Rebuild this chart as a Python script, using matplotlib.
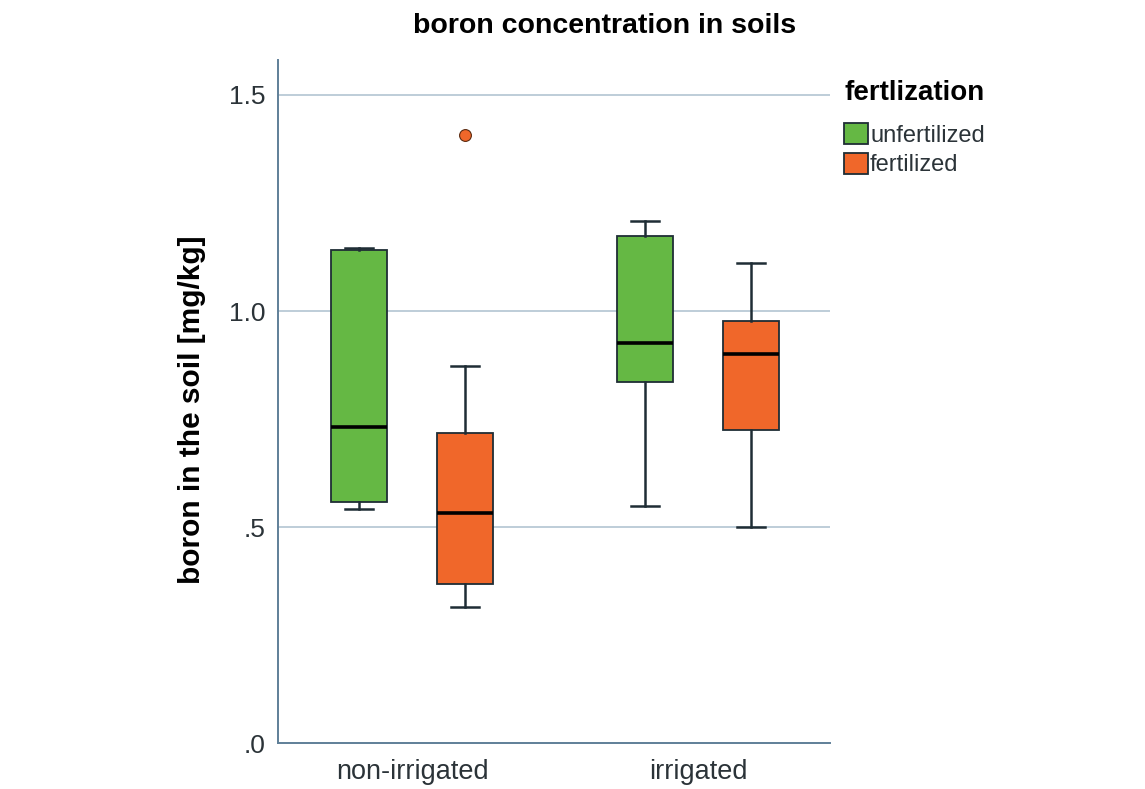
import matplotlib.pyplot as plt
from matplotlib.patches import Patch

plt.rcParams['font.family'] = ['Liberation Sans', 'DejaVu Sans']

groups = ['non-irrigated', 'irrigated']
series = ['unfertilized', 'fertilized']
colors = ['#65b844', '#f0672a']

# box statistics per series, one value per irrigation group
whislo = {'unfertilized': [0.542, 0.549], 'fertilized': [0.315, 0.500]}
q1 = {'unfertilized': [0.558, 0.836], 'fertilized': [0.368, 0.725]}
med = {'unfertilized': [0.731, 0.926], 'fertilized': [0.532, 0.900]}
q3 = {'unfertilized': [1.141, 1.174], 'fertilized': [0.718, 0.977]}
whishi = {'unfertilized': [1.145, 1.208], 'fertilized': [0.873, 1.111]}
fliers = {'unfertilized': [[], []], 'fertilized': [[1.407], []]}

fig = plt.figure(figsize=(11.45, 7.89), dpi=100)
ax = fig.add_axes([0.243, 0.058, 0.482, 0.866])

offset = 0.185
width = 0.196
edge = '#1f2d35'
for k, s in enumerate(series):
    stats = []
    for i in range(len(groups)):
        stats.append({'whislo': whislo[s][i], 'q1': q1[s][i], 'med': med[s][i],
                      'q3': q3[s][i], 'whishi': whishi[s][i], 'fliers': fliers[s][i]})
    pos = [i + (k - 0.5) * 2 * offset for i in range(len(groups))]
    ax.bxp(stats, positions=pos, widths=width, patch_artist=True, manage_ticks=False,
           boxprops=dict(facecolor=colors[k], edgecolor=edge, linewidth=1.3),
           medianprops=dict(color='black', linewidth=2.6),
           whiskerprops=dict(color=edge, linewidth=1.8),
           capprops=dict(color=edge, linewidth=1.8),
           capwidths=width * 0.5,
           flierprops=dict(marker='o', markerfacecolor=colors[1], markeredgecolor='#5a2a10',
                           markersize=8.5, markeredgewidth=0.8),
           zorder=3)

ax.set_xlim(-0.469, 1.462)
ax.set_ylim(0, 1.581)
ax.set_xticks(range(len(groups)))
ax.set_xticklabels(groups, fontsize=19.5, color='#2b3338')
ax.set_yticks([0, 0.5, 1.0, 1.5])
ax.set_yticklabels(['.0', '.5', '1.0', '1.5'], fontsize=19, color='#2b3338')
ax.tick_params(axis='x', length=0, pad=11)
ax.tick_params(axis='y', length=0, pad=9)
for y in [0.5, 1.0, 1.5]:
    ax.axhline(y, color='#b9c9d5', linewidth=1.3, zorder=1)

for side in ['top', 'right']:
    ax.spines[side].set_visible(False)
for side in ['left', 'bottom']:
    ax.spines[side].set_color('#5f7f98')
    ax.spines[side].set_linewidth(1.4)

ax.set_ylabel('boron in the soil [mg/kg]', fontsize=21.5, fontweight='bold')
ax.yaxis.set_label_coords(-0.131, 0.488)
fig.suptitle('boron concentration in soils', x=0.528, y=0.983, fontsize=20.5, fontweight='bold')

handles = [Patch(facecolor=c, edgecolor=edge, linewidth=1.3) for c in colors]
leg = fig.legend(handles, series, title='fertlization', loc='upper left',
                 bbox_to_anchor=(0.729, 0.91), frameon=False, fontsize=17,
                 handlelength=1.0, handleheight=1.0, handletextpad=0.1, labelspacing=0.25,
                 borderaxespad=0)
leg.get_title().set_fontweight('bold')
leg.get_title().set_fontsize(20)
leg._legend_box.align = 'left'
leg._legend_box.sep = 12
for t in leg.get_texts():
    t.set_color('#2b3338')

fig.savefig('out.png', dpi=100, facecolor='white')
